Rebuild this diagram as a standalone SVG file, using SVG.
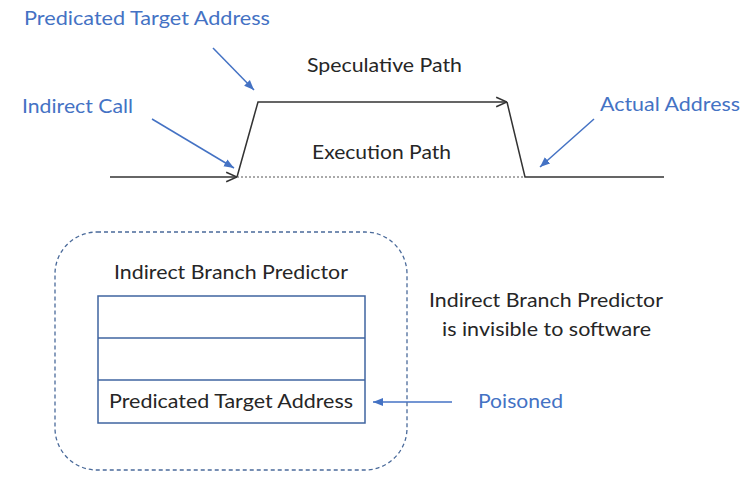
<svg xmlns="http://www.w3.org/2000/svg" width="748" height="483" viewBox="0 0 748 483">
<defs>
<style>
text{font-family:Lato,"Open Sans","Liberation Sans",sans-serif;font-size:20px;}
.dark{fill:#262626;}
.blue{fill:#4472C4;}
.path{fill:none;stroke:#333;stroke-width:1.5;}
.barrow{fill:none;stroke:#4472C4;stroke-width:1.5;}
</style>
<marker id="open" viewBox="0 0 10 10" refX="10" refY="5" markerWidth="12" markerHeight="12" markerUnits="userSpaceOnUse" orient="auto">
<path d="M1,1 L10,5 L1,9" fill="none" stroke="#333" stroke-width="1.3"/>
</marker>
<marker id="fill" viewBox="0 0 10 10" refX="10" refY="5" markerWidth="10" markerHeight="10" markerUnits="userSpaceOnUse" orient="auto">
<path d="M0,1 L10,5 L0,9 Z" fill="#4472C4"/>
</marker>
</defs>
<rect width="748" height="483" fill="#fff"/>
<g id="connectors">
<line class="path" x1="110" y1="177" x2="237" y2="177" marker-end="url(#open)"/>
<polyline class="path" points="237,177 258,102 507,102" marker-end="url(#open)"/>
<polyline class="path" points="507,102 525,177 664,177"/>
<line x1="237" y1="177" x2="525" y2="177" stroke="#555" stroke-width="1" stroke-dasharray="2 2"/>
<line class="barrow" x1="213" y1="48" x2="254" y2="90" marker-end="url(#fill)"/>
<line class="barrow" x1="152" y1="119" x2="234" y2="168" marker-end="url(#fill)"/>
<line class="barrow" x1="594" y1="119" x2="540" y2="167" marker-end="url(#fill)"/>
<line class="barrow" x1="452" y1="402" x2="373" y2="402" marker-end="url(#fill)"/>
</g>
<g id="labels-top">
<text class="blue" x="24" y="25" textLength="246" lengthAdjust="spacingAndGlyphs">Predicated Target Address</text>
<text class="blue" x="22" y="113" textLength="111" lengthAdjust="spacingAndGlyphs">Indirect Call</text>
<text class="blue" x="600" y="111" textLength="140" lengthAdjust="spacingAndGlyphs">Actual Address</text>
<text class="dark" x="307" y="72" textLength="155" lengthAdjust="spacingAndGlyphs">Speculative Path</text>
<text class="dark" x="312" y="159" textLength="139" lengthAdjust="spacingAndGlyphs">Execution Path</text>
</g>
<g id="predictor">
<rect x="55" y="232" width="352" height="238" rx="42" ry="42" fill="none" stroke="#4A6A9A" stroke-width="1.3" stroke-dasharray="4 3"/>
<text class="dark" x="114" y="279" textLength="234" lengthAdjust="spacingAndGlyphs">Indirect Branch Predictor</text>
</g>
<g id="table">
<rect x="98" y="296" width="267" height="127" fill="#fff" stroke="#3F64A0" stroke-width="1.5"/>
<line x1="98" y1="338" x2="365" y2="338" stroke="#3F64A0" stroke-width="1.5"/>
<line x1="98" y1="380" x2="365" y2="380" stroke="#3F64A0" stroke-width="1.5"/>
<text class="dark" x="109" y="408" textLength="244" lengthAdjust="spacingAndGlyphs">Predicated Target Address</text>
</g>
<g id="note">
<text class="dark" x="429" y="307" textLength="234" lengthAdjust="spacingAndGlyphs">Indirect Branch Predictor</text>
<text class="dark" x="442" y="336" textLength="209" lengthAdjust="spacingAndGlyphs">is invisible to software</text>
</g>
<g id="poisoned">
<text class="blue" x="478" y="408" textLength="85" lengthAdjust="spacingAndGlyphs">Poisoned</text>
</g>
</svg>
